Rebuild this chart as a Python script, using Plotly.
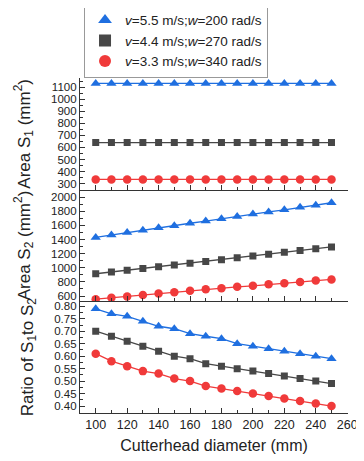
import plotly.graph_objects as go
from plotly.subplots import make_subplots

diameter = [100, 110, 120, 130, 140, 150, 160, 170, 180, 190, 200, 210, 220, 230, 240, 250]

s1_v55 = [1130] * 16
s1_v44 = [640] * 16
s1_v33 = [335] * 16

s2_v55 = [1430, 1465, 1500, 1530, 1565, 1595, 1630, 1660, 1695, 1725, 1760, 1790, 1820, 1855, 1885, 1920]
s2_v44 = [915, 940, 965, 990, 1015, 1040, 1065, 1090, 1115, 1140, 1165, 1190, 1220, 1245, 1270, 1295]
s2_v33 = [555, 575, 595, 615, 635, 655, 675, 695, 710, 730, 745, 765, 780, 800, 820, 835]

r_v55 = [0.79, 0.77, 0.76, 0.74, 0.72, 0.71, 0.69, 0.68, 0.67, 0.65, 0.64, 0.63, 0.62, 0.61, 0.60, 0.59]
r_v44 = [0.70, 0.68, 0.66, 0.64, 0.62, 0.60, 0.59, 0.57, 0.56, 0.55, 0.54, 0.53, 0.52, 0.51, 0.50, 0.49]
r_v33 = [0.61, 0.58, 0.56, 0.54, 0.53, 0.51, 0.50, 0.48, 0.47, 0.46, 0.45, 0.44, 0.43, 0.42, 0.41, 0.40]

names = ["<i>v</i>=5.5 m/s;<i>w</i>=200 rad/s",
         "<i>v</i>=4.4 m/s;<i>w</i>=270 rad/s",
         "<i>v</i>=3.3 m/s;<i>w</i>=340 rad/s"]
colors = ["#1f6fe0", "#474747", "#f03a3a"]
symbols = ["triangle-up", "square", "circle"]
msizes = [9, 7, 8.5]

fig = make_subplots(rows=3, cols=1, shared_xaxes=True, vertical_spacing=0)

panels = [(s1_v55, s1_v44, s1_v33), (s2_v55, s2_v44, s2_v33), (r_v55, r_v44, r_v33)]
for row, series in enumerate(panels, start=1):
    for i, ys in enumerate(series):
        fig.add_trace(go.Scatter(
            x=diameter, y=ys, mode="lines", line=dict(color=colors[i], width=1.3),
            showlegend=False, hoverinfo="skip"), row=row, col=1)
        fig.add_trace(go.Scatter(
            x=diameter, y=ys, mode="markers", name=names[i],
            marker=dict(symbol=symbols[i], size=msizes[i], color=colors[i]),
            showlegend=(row == 1)), row=row, col=1)

font = "Liberation Sans, Arial, sans-serif"
axis_common = dict(showline=True, linecolor="#333", linewidth=1.2, ticks="inside",
                   tickcolor="#333", ticklen=5, tickwidth=1, showgrid=False, zeroline=False,
                   automargin=False)
ytf = dict(size=11.5, color="#222", family=font)
ttf = dict(size=17, color="#222", family=font)

for r in (1, 2, 3):
    fig.update_xaxes(range=[90, 260.5], tick0=100, dtick=20,
                     minor=dict(dtick=10, ticks="inside", ticklen=3, tickcolor="#333"),
                     showticklabels=(r == 3), ticklabeloverflow="allow",
                     tickfont=dict(size=12.5, color="#222", family=font),
                     row=r, col=1, **axis_common)

fig.update_xaxes(title=dict(text="Cutterhead diameter (mm)", font=dict(size=16, color="#222", family=font),
                            standoff=8), row=3, col=1)

fig.update_yaxes(range=[250, 1175], tick0=300, dtick=100, tickfont=ytf,
                 minor=dict(dtick=50, ticks="inside", ticklen=3, tickcolor="#333"),
                 title=dict(text="Area S<sub>1</sub> (mm<sup>2</sup>)", font=ttf, standoff=16),
                 row=1, col=1, **axis_common)
fig.update_yaxes(range=[525, 2105], tick0=600, dtick=200, tickfont=ytf,
                 minor=dict(dtick=100, ticks="inside", ticklen=3, tickcolor="#333"),
                 title=dict(text="Area S<sub>2</sub> (mm<sup>2</sup>)", font=ttf, standoff=16),
                 row=2, col=1, **axis_common)
fig.update_yaxes(range=[0.372, 0.82], tick0=0.4, dtick=0.05, tickformat=".2f", tickfont=ytf,
                 minor=dict(dtick=0.025, ticks="inside", ticklen=3, tickcolor="#333"),
                 title=dict(text="Ratio of S<sub>1</sub>to S<sub>2</sub>", font=ttf, standoff=16),
                 row=3, col=1, **axis_common)

fig.update_layout(
    width=356, height=453,
    margin=dict(l=72, r=16, t=70, b=48, autoexpand=False),
    paper_bgcolor="white", plot_bgcolor="white",
    font=dict(family=font, color="#222"),
    legend=dict(x=0.015, y=1.222, xanchor="left", yanchor="top",
                bordercolor="#999", borderwidth=1, bgcolor="white",
                font=dict(size=13.5, family=font, color="#222"),
                tracegroupgap=0, itemsizing="constant"),
)

fig.write_html("out.html")
